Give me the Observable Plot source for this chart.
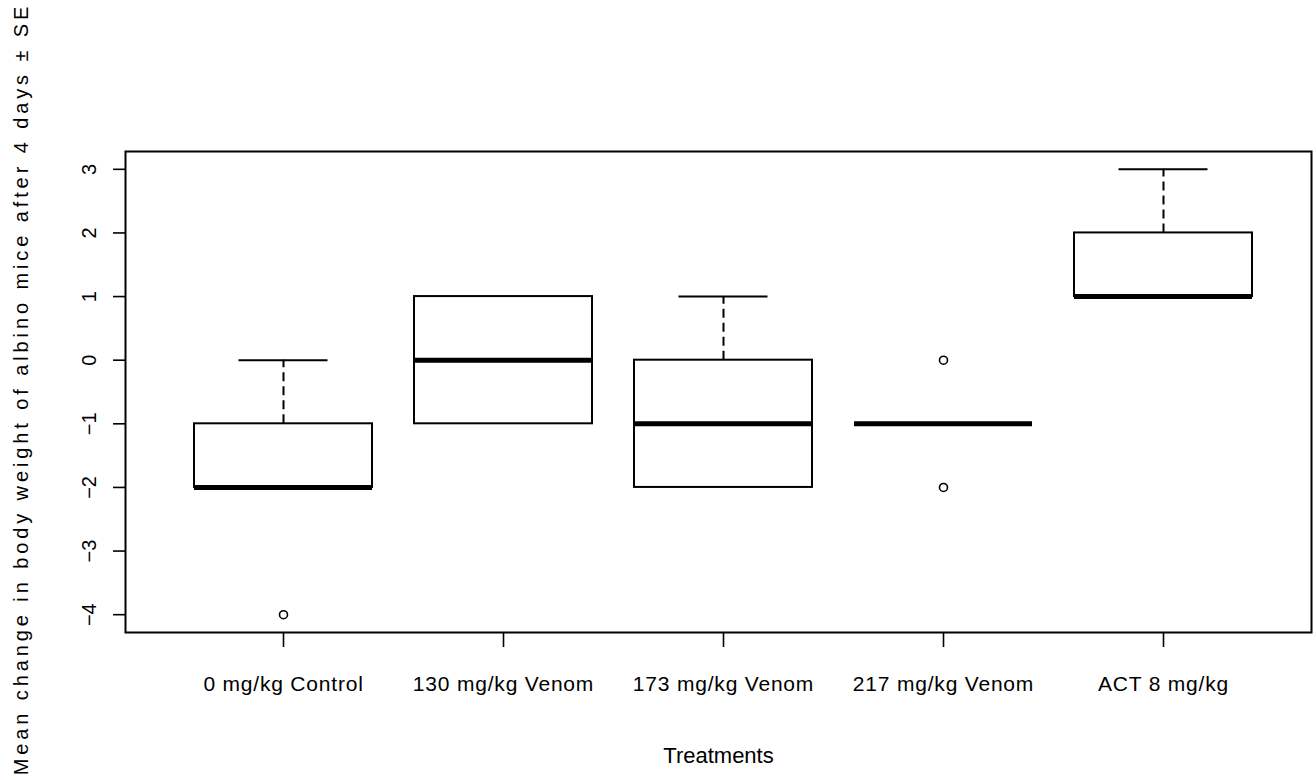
<!DOCTYPE html>
<html>
<head>
<meta charset="utf-8">
<script src="https://cdn.jsdelivr.net/npm/d3@7"></script>
<script src="https://cdn.jsdelivr.net/npm/@observablehq/plot@0.6"></script>
<style>
  html, body { margin: 0; padding: 0; background: #fff; }
  #chart svg { display: block; }
  #chart [aria-label="x-axis tick label"] text { letter-spacing: 0.8px; }
  #chart [aria-label="x-axis label"] text { font-size: 22px; }
  #chart [aria-label="text"] text { letter-spacing: 3.9px; }
</style>
</head>
<body>
<div id="chart"></div>
<script>
const categories = ["0 mg/kg Control", "130 mg/kg Venom", "173 mg/kg Venom", "217 mg/kg Venom", "ACT 8 mg/kg"];
const lowerWhisker = [-2, -1, -2, -1, 1];
const q1 = [-2, -1, -2, -1, 1];
const median = [-2, 0, -1, -1, 1];
const q3 = [-1, 1, 0, -1, 2];
const upperWhisker = [0, 1, 1, -1, 3];
const outlierCategory = ["0 mg/kg Control", "217 mg/kg Venom", "217 mg/kg Venom"];
const outlierValue = [-4, 0, -2];
const yTicks = [-4, -3, -2, -1, 0, 1, 2, 3];
const xTitle = "Treatments";
const yTitle = "Mean change in body weight of albino mice after 4 days ± SE";

const boxes = categories.map((c, i) => ({
  cat: c, lo: lowerWhisker[i], q1: q1[i], med: median[i], q3: q3[i], hi: upperWhisker[i]
}));
const outliers = outlierCategory.map((c, i) => ({cat: c, v: outlierValue[i]}));

const bandwidth = 178;
const capInset = bandwidth / 4;

const plot = Plot.plot({
  width: 1316,
  height: 780,
  marginLeft: 125,
  marginRight: 5,
  marginTop: 151,
  marginBottom: 148,
  style: {fontFamily: "'Liberation Sans', Arial, sans-serif", color: "#000", background: "#fff"},
  x: {type: "band", domain: categories, paddingInner: 0.192, paddingOuter: 0.288, align: 0.535},
  y: {domain: [-4.28, 3.28], labelArrow: "none"},
  marks: [
    Plot.frame({stroke: "#000", strokeWidth: 2}),
    Plot.axisY({ticks: yTicks, tickSize: 12, tickRotate: -90, tickPadding: 18, fontSize: 20,
      strokeWidth: 1.6, label: null}),
    Plot.axisX({tickSize: 15, tickPadding: 29, fontSize: 21, strokeWidth: 1.6,
      label: xTitle, labelAnchor: "center", labelOffset: 130}),
    Plot.text([yTitle], {text: d => d, frameAnchor: "left", textAnchor: "middle", rotate: -90, lineAnchor: "top",
      fontSize: 20, dx: -112, dy: -3, fill: "#000"}),
    Plot.ruleX(boxes.filter(d => d.hi > d.q3), {x: "cat", y1: "q3", y2: "hi", stroke: "#000", strokeWidth: 2, strokeDasharray: "9,5"}),
    Plot.ruleX(boxes.filter(d => d.lo < d.q1), {x: "cat", y1: "lo", y2: "q1", stroke: "#000", strokeWidth: 2, strokeDasharray: "9,5"}),
    Plot.tickY(boxes.filter(d => d.hi > d.q3), {x: "cat", y: "hi", stroke: "#000", strokeWidth: 2, insetLeft: capInset, insetRight: capInset}),
    Plot.tickY(boxes.filter(d => d.lo < d.q1), {x: "cat", y: "lo", stroke: "#000", strokeWidth: 2, insetLeft: capInset, insetRight: capInset}),
    Plot.barY(boxes.filter(d => d.q3 > d.q1), {x: "cat", y1: "q1", y2: "q3", fill: "#fff", stroke: "#000", strokeWidth: 2}),
    Plot.tickY(boxes, {x: "cat", y: "med", stroke: "#000", strokeWidth: 5}),
    Plot.dot(outliers, {x: "cat", y: "v", r: 4, stroke: "#000", strokeWidth: 1.6, fill: "none"})
  ]
});
document.getElementById("chart").appendChild(plot);
</script>
</body>
</html>
